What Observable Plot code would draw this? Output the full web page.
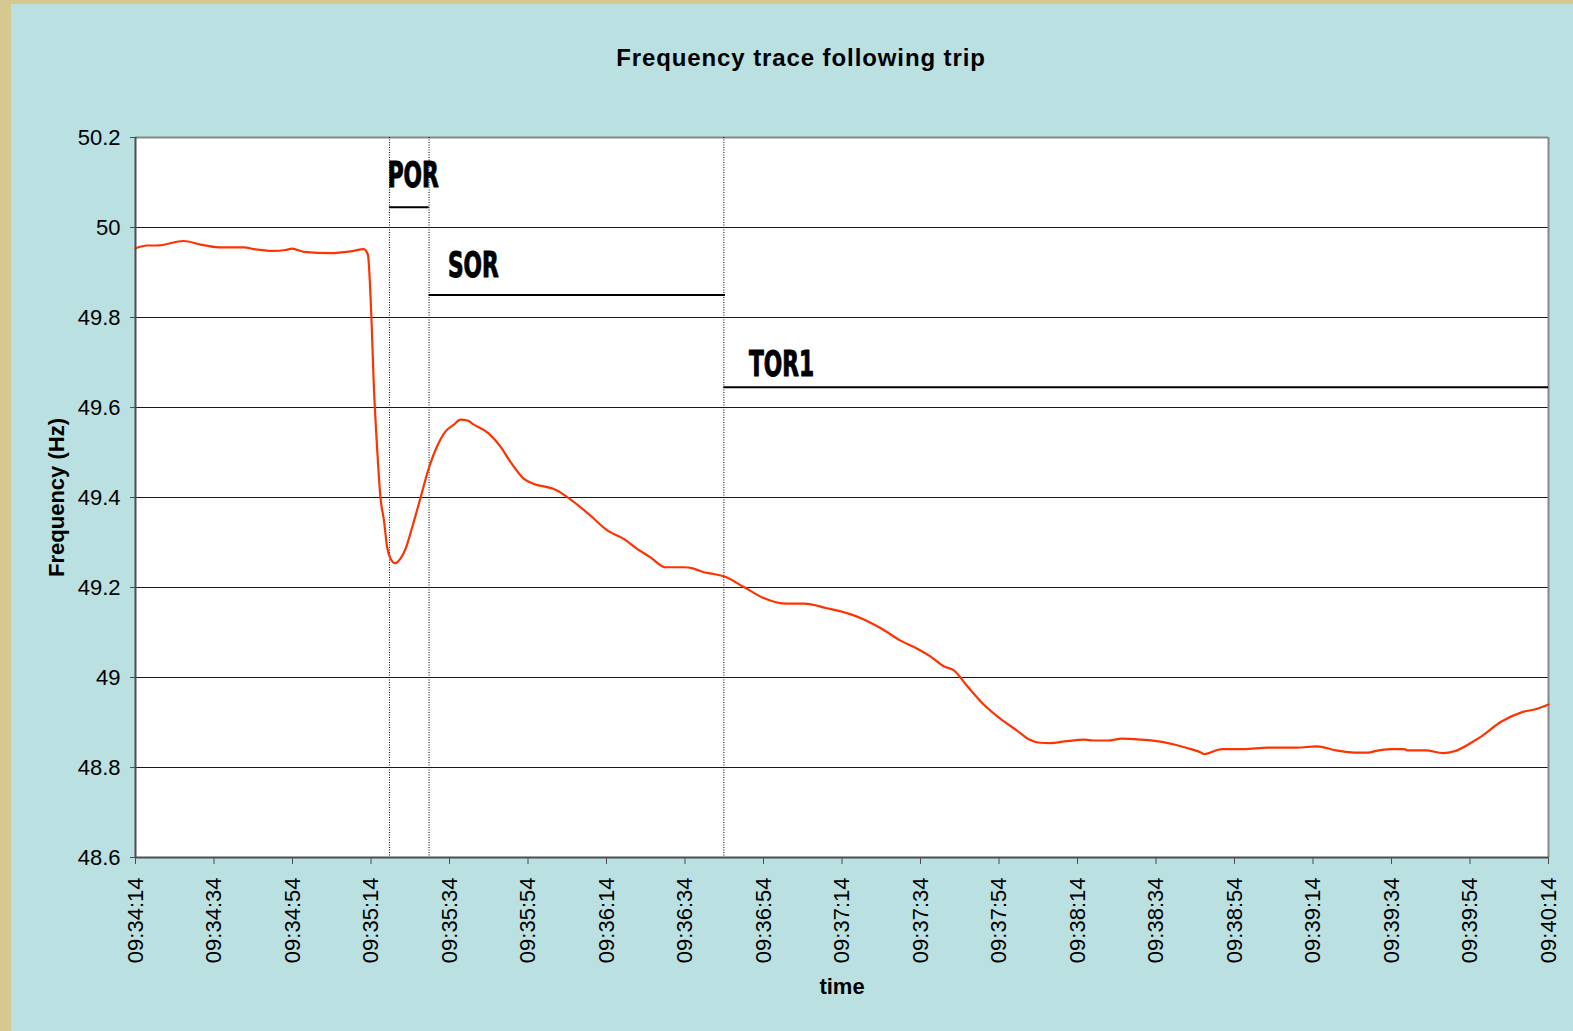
<!DOCTYPE html>
<html><head><meta charset="utf-8">
<script src="https://cdn.jsdelivr.net/npm/d3@7"></script>
<script src="https://cdn.jsdelivr.net/npm/@observablehq/plot@0.6"></script>
<style>
html,body{margin:0;padding:0;width:1573px;height:1031px;overflow:hidden;background:#d5c98f;}
#panel{position:absolute;left:11px;top:4px;width:1562px;height:1027px;background:#bae0e2;}
#title{position:absolute;left:401px;width:800px;top:44px;text-align:center;font:bold 24px "Liberation Sans",Arial,sans-serif;letter-spacing:0.9px;color:#000;white-space:nowrap;}
#chart{position:absolute;left:11px;top:90px;}
</style></head><body>
<div id="panel"></div>
<div id="title">Frequency trace following trip</div>
<div id="chart"></div>
<script>
// seconds after 09:34:14
const seconds = [0,3.0,5.5,12.3,16.6,21.2,27.6,30.1,35.2,38.2,
  39.9,42.9,49.7,54.8,58.2,59.2,60.1,60.7,61.6,62.4,
  63.3,64.1,65.0,66.2,67.5,68.8,70.5,72.6,74.8,76.7,
  79.0,81.1,82.8,84.6,86.2,89.9,93.0,95.3,98.9,101.5,
  104.9,106.6,110.0,115.9,120.2,124.4,127.8,131.2,135.0,139.7,
  142.2,144.8,147.3,149.9,155.0,159.7,166.0,170.3,176.2,181.3,
  185.6,189.8,194.9,199.2,202.5,205.9,208.5,211.9,216.1,220.4,
  224.6,227.7,230.4,233.1,236.8,241.8,244.0,247.7,251.3,255.9,
  262.2,267.7,271.3,272.3,276.8,282.3,288.6,295.9,300.9,305.9,
  310.5,314.1,316.1,319.7,323.3,324.1,328.7,333.2,336.0,340.5,
  343.2,347.8,353.3,356.9,360];
const frequency = [49.954,49.960,49.960,49.970,49.962,49.956,49.956,49.952,49.948,49.950,
  49.953,49.946,49.943,49.947,49.952,49.940,49.801,49.653,49.504,49.401,
  49.349,49.290,49.264,49.254,49.264,49.286,49.334,49.399,49.467,49.511,
  49.547,49.562,49.573,49.571,49.562,49.543,49.513,49.482,49.442,49.430,
  49.423,49.419,49.401,49.360,49.327,49.308,49.286,49.267,49.245,49.245,
  49.242,49.234,49.230,49.225,49.201,49.178,49.164,49.164,49.154,49.143,
  49.129,49.110,49.082,49.064,49.047,49.025,49.016,48.981,48.940,48.908,
  48.882,48.862,48.855,48.854,48.858,48.862,48.860,48.860,48.864,48.862,
  48.856,48.844,48.834,48.830,48.841,48.841,48.844,48.844,48.847,48.838,
  48.833,48.833,48.837,48.841,48.841,48.838,48.838,48.832,48.836,48.856,
  48.871,48.901,48.923,48.930,48.940];

const xTickSeconds = [0,20,40,60,80,100,120,140,160,180,200,220,240,260,280,300,320,340,360];
const xTickLabels = ["09:34:14","09:34:34","09:34:54","09:35:14","09:35:34","09:35:54","09:36:14","09:36:34","09:36:54","09:37:14","09:37:34","09:37:54","09:38:14","09:38:34","09:38:54","09:39:14","09:39:34","09:39:54","09:40:14"];
const yTicks = [48.6,48.8,49.0,49.2,49.4,49.6,49.8,50.0,50.2];
const gridValues = [48.8,49.0,49.2,49.4,49.6,49.8,50.0];

// reserve periods
const periodNames = ["POR","SOR","TOR1"];
const periodStart = [64.7,74.8,149.9];
const periodEnd = [74.8,150.3,360];
const periodLevel = [50.045,49.85,49.645];
const periodLabelX = [64.25,79.6,156.3];
const periodLabelY = [50.115,49.915,49.696];
const markerSeconds = [64.7,74.8,149.9];

const rows = seconds.map((t,i)=>({t, f: frequency[i]}));
const periods = periodNames.map((name,i)=>({name, start: periodStart[i], end: periodEnd[i], level: periodLevel[i], lx: periodLabelX[i], ly: periodLabelY[i]}));
const labelOf = new Map(xTickSeconds.map((s,i)=>[s, xTickLabels[i]]));

const font = '"Liberation Sans", Arial, sans-serif';
const chart = Plot.plot({
  width: 1562, height: 941,
  marginLeft: 124, marginRight: 25, marginTop: 47, marginBottom: 174,
  style: {background: "transparent", fontFamily: font, fontSize: "22px", color: "#000", overflow: "visible"},
  x: {domain: [0, 360]},
  y: {domain: [48.6, 50.2]},
  marks: [
    Plot.frame({fill: "white", stroke: null}),
    Plot.ruleY(gridValues, {stroke: "#1a1a1a", strokeWidth: 1}),
    Plot.ruleY([50.2], {stroke: "#888", strokeWidth: 2}),
    Plot.ruleX([360], {stroke: "#888", strokeWidth: 2}),
    Plot.ruleX(markerSeconds, {stroke: "#000", strokeWidth: 1, strokeDasharray: "1,1.5"}),
    Plot.ruleY(periods, {x1: "start", x2: "end", y: "level", stroke: "#000", strokeWidth: 2}),
    Plot.text(periods, {x: "lx", y: "ly", text: "name", textAnchor: "start", fontFamily: '"Liberation Sans Narrow", "DejaVu Sans Condensed", sans-serif', fontWeight: "bold", fontSize: 35, fill: "#000", stroke: "#000", strokeWidth: 1}),
    Plot.line(rows, {x: "t", y: "f", stroke: "#ff3300", strokeWidth: 2.2, curve: "monotone-x"}),
    Plot.ruleX([0], {stroke: "#4d4d4d", strokeWidth: 2}),
    Plot.ruleY([48.6], {stroke: "#4d4d4d", strokeWidth: 2}),
    Plot.axisX({ticks: xTickSeconds, tickFormat: d => labelOf.get(d), tickRotate: -90, tickSize: 7, tickPadding: 13, stroke: "#4d4d4d", fontSize: 22, label: "time", labelAnchor: "center", labelOffset: 136}),
    Plot.axisY({ticks: yTicks, tickFormat: d => String(+d.toFixed(1)), tickSize: 5, tickPadding: 10, stroke: "#4d4d4d", fontSize: 22, label: "Frequency (Hz)", labelAnchor: "center", labelOffset: 87})
  ]
});
document.getElementById("chart").appendChild(chart);
const svg = d3.select(chart);
svg.selectAll('g[aria-label="x-axis label"] text').attr("font-weight", "bold").text("time");
svg.selectAll('g[aria-label="y-axis label"] text').attr("font-weight", "bold").text("Frequency (Hz)");
svg.selectAll('g[aria-label="text"] text').each(function() {
  const t = d3.select(this);
  t.attr("transform", (t.attr("transform") || "") + " scale(0.69,1)");
});
</script>
</body></html>
